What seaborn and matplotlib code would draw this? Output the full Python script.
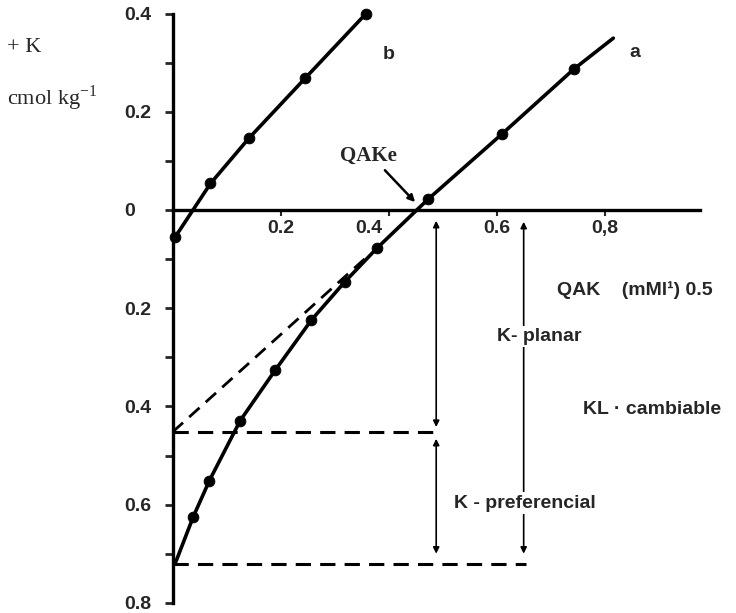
import numpy as np
import pandas as pd
import matplotlib
matplotlib.use("Agg")
import matplotlib.pyplot as plt
import matplotlib.transforms as mtransforms
import seaborn as sns

# curve a (measured points) + where the drawn line starts/ends
a_qak = [0.038, 0.068, 0.125, 0.19, 0.257, 0.319, 0.378, 0.473, 0.609, 0.743]
a_k = [-0.625, -0.551, -0.429, -0.326, -0.224, -0.146, -0.078, 0.022, 0.154, 0.287]
a_line_start = (0.006, -0.716)
a_line_end = (0.816, 0.35)

# curve b
b_qak = [0.004, 0.070, 0.141, 0.245, 0.358]
b_k = [-0.056, 0.054, 0.146, 0.268, 0.40]

# construction lines
tangent_x = [0.0, 0.36]
tangent_y = [-0.452, -0.095]
k_planar_level = -0.453
k_pref_level = -0.72
qake_x = 0.488
kl_x = 0.65

y_ticks = [-0.8, -0.6, -0.4, -0.2, 0, 0.2, 0.4]
y_ticklabels = ["0.8", "0.6", "0.4", "0.2", "0", "0.2", "0.4"]
x_ticks = [0.2, 0.4, 0.6, 0.8]
x_ticklabels = ["0.2", "0.4", "0.6", "0,8"]

sns.set_style("white")
plt.rcParams["font.family"] = ["Liberation Sans", "DejaVu Sans"]

fig = plt.figure(figsize=(7.36, 6.13), dpi=100)
ax = fig.add_axes([172.7 / 736, (613 - 602.8) / 613, 527 / 736, 589.2 / 613])

df_a = pd.DataFrame({"qak": [a_line_start[0]] + a_qak + [a_line_end[0]],
                     "k": [a_line_start[1]] + a_k + [a_line_end[1]]})
df_b = pd.DataFrame({"qak": b_qak, "k": b_k})

lw = 2.6
sns.lineplot(data=df_a, x="qak", y="k", sort=False, color="black", lw=lw, ax=ax)
sns.lineplot(data=df_b, x="qak", y="k", sort=False, color="black", lw=lw, ax=ax)
sns.scatterplot(x=a_qak, y=a_k, color="black", s=60, edgecolor="black", ax=ax, zorder=5, clip_on=False)
sns.scatterplot(x=b_qak, y=b_k, color="black", s=60, edgecolor="black", ax=ax, zorder=5, clip_on=False)

dash = (0, (5, 3))
ax.plot(tangent_x, tangent_y, color="black", lw=2.0, ls=dash)
ax.plot([0, qake_x + 0.005], [k_planar_level] * 2, color="black", lw=2.2, ls=dash)
ax.plot([0, kl_x + 0.005], [k_pref_level] * 2, color="black", lw=2.2, ls=dash)

arrow = dict(arrowstyle="<|-|>", color="black", lw=1.2, mutation_scale=9, shrinkA=0, shrinkB=0)
ax.annotate("", xy=(qake_x, -0.022), xytext=(qake_x, -0.442), arrowprops=arrow)
ax.annotate("", xy=(qake_x, -0.466), xytext=(qake_x, -0.70), arrowprops=arrow)
ax.annotate("", xy=(kl_x, -0.024), xytext=(kl_x, -0.70), arrowprops=arrow)

# QAKe pointer
ax.annotate("", xy=(0.449, 0.016), xytext=(0.393, 0.081),
            arrowprops=dict(arrowstyle="-|>", color="black", lw=1.8, mutation_scale=10,
                            shrinkA=0, shrinkB=0))
ax.text(0.362, 0.11, "QAKe", family=["Liberation Serif"], fontsize=15, fontweight="bold",
        ha="center", va="center")

bold = dict(fontsize=14, fontweight="bold", va="center")
ax.text(0.399, 0.316, "b", ha="center", **bold)
ax.text(0.856, 0.32, "a", ha="center", **bold)
ax.text(0.712, -0.163, "QAK    (mMl¹) 0.5", ha="left", clip_on=False, **bold)
box = dict(facecolor="white", edgecolor="none", pad=1.5)
ax.text(kl_x + 0.028, -0.257, "K- planar", ha="center", bbox=box, **bold)
ax.text(0.888, -0.407, "KL · cambiable", ha="center", clip_on=False, **bold)
ax.text(0.653, -0.597, "K - preferencial", ha="center", bbox=box, **bold)

ax.set_xlim(0, 0.976)
ax.set_ylim(-0.8, 0.4)
ax.set_xlabel("")
ax.set_ylabel("")

for side in ["top", "right"]:
    ax.spines[side].set_visible(False)
ax.spines["bottom"].set_position(("data", 0))
ax.spines["left"].set_linewidth(2.4)
ax.spines["bottom"].set_linewidth(2.4)
ax.spines["left"].set_color("black")
ax.spines["bottom"].set_color("black")

ax.set_yticks(y_ticks)
ax.set_yticklabels(y_ticklabels, fontsize=14, fontweight="bold", ha="left")
ax.set_yticks(np.arange(-0.8, 0.41, 0.1), minor=True)
ax.tick_params(axis="y", which="both", direction="out", length=6, width=2, pad=29, left=True)
ax.set_xticks(x_ticks)
ax.set_xticklabels(x_ticklabels, fontsize=14, fontweight="bold")
ax.tick_params(axis="x", which="both", direction="out", length=4, width=1.5, pad=3, bottom=True)

# the scanned "0.4" label sits left of its tick
lab = ax.get_xticklabels()[1]
lab.set_transform(lab.get_transform() + mtransforms.ScaledTranslation(-0.2, 0, fig.dpi_scale_trans))

serif = ["Liberation Serif", "DejaVu Serif"]
fig.text(7 / 736, 1 - 47 / 613, "+ K", family=serif, fontsize=16, ha="left", va="center")
fig.text(7 / 736, 1 - 98 / 613, r"cmol kg$^{\mathregular{-1}}$", family=serif, fontsize=16,
         ha="left", va="center")

fig.savefig("out.png", dpi=100, facecolor="white")
